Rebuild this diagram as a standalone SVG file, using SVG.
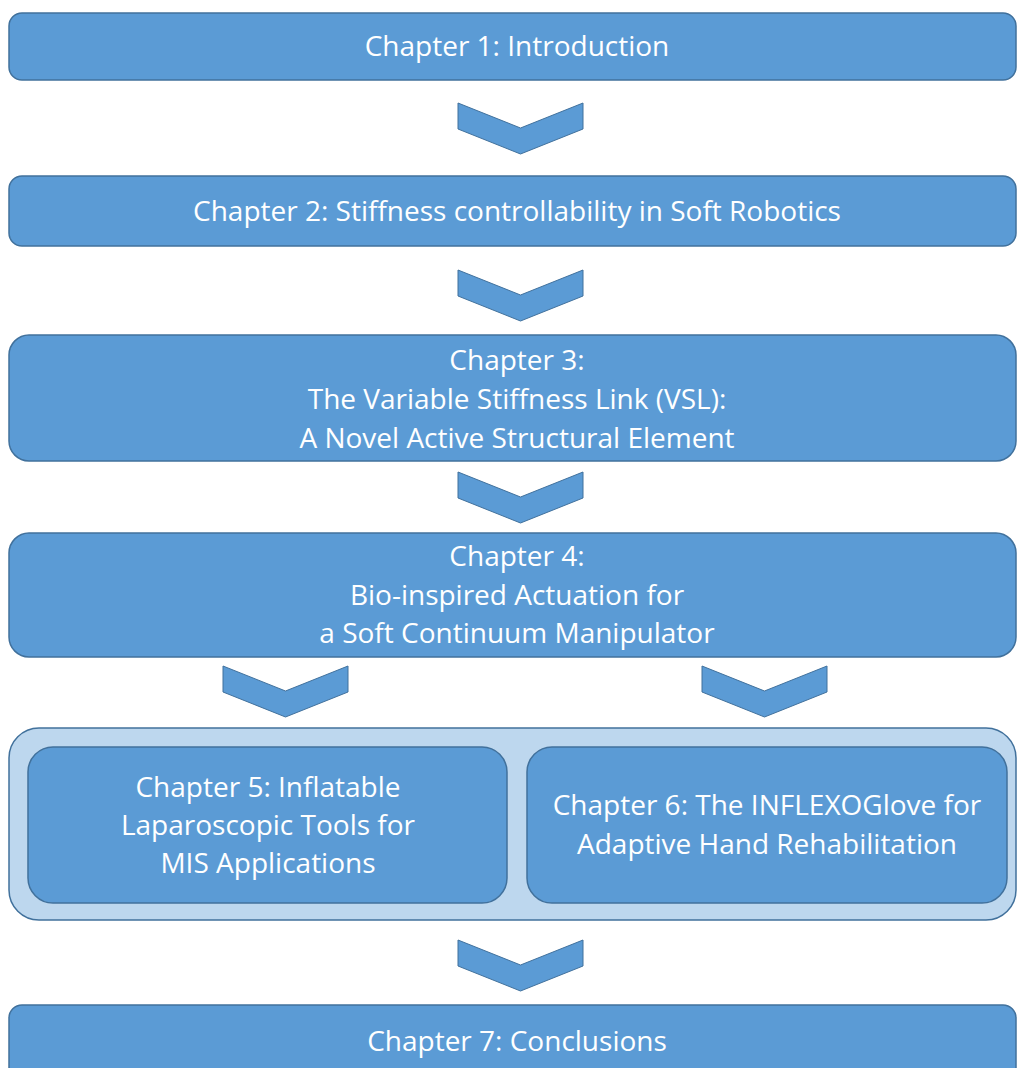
<svg xmlns="http://www.w3.org/2000/svg" width="1018" height="1068" viewBox="0 0 1018 1068">
<defs>
<style>
.box{fill:#5B9BD5;stroke:#41719C;stroke-width:1.5}
.outer{fill:#BDD7EE;stroke:#41719C;stroke-width:1.5}
.chev{fill:#5B9BD5;stroke:#41719C;stroke-width:1}
.t{fill:#FFFFFF;font-family:"Open Sans","Liberation Sans",sans-serif;font-size:28px;text-anchor:middle}
</style>
<path id="chevron" class="chev" d="M0,0 L62.5,25 L125,0 L125,26 L62.5,51 L0,26 Z"/>
</defs>
<rect width="1018" height="1068" fill="#FFFFFF"/>
<g id="ch1">
<rect class="box" x="9" y="13" width="1007" height="67" rx="13"/>
<text class="t" x="517" y="56">Chapter 1: Introduction</text>
</g>
<g id="ch2">
<rect class="box" x="9" y="176" width="1007" height="70" rx="13"/>
<text class="t" x="517" y="221">Chapter 2: Stiffness controllability in Soft Robotics</text>
</g>
<g id="ch3">
<rect class="box" x="9" y="335" width="1007" height="126" rx="20"/>
<text class="t" x="517" y="370">Chapter 3:</text>
<text class="t" x="517" y="409">The Variable Stiffness Link (VSL):</text>
<text class="t" x="517" y="448">A Novel Active Structural Element</text>
</g>
<g id="ch4">
<rect class="box" x="9" y="533" width="1007" height="124" rx="20"/>
<text class="t" x="517" y="566">Chapter 4:</text>
<text class="t" x="517" y="605">Bio-inspired Actuation for</text>
<text class="t" x="517" y="643">a Soft Continuum Manipulator</text>
</g>
<g id="group56">
<rect class="outer" x="9" y="728" width="1007" height="192" rx="30"/>
</g>
<g id="ch5">
<rect class="box" x="28" y="747" width="479" height="156" rx="25"/>
<text class="t" x="268" y="797">Chapter 5: Inflatable</text>
<text class="t" x="268" y="835">Laparoscopic Tools for</text>
<text class="t" x="268" y="873">MIS Applications</text>
</g>
<g id="ch6">
<rect class="box" x="527" y="747" width="480" height="156" rx="25"/>
<text class="t" x="767" y="815">Chapter 6: The INFLEXOGlove for</text>
<text class="t" x="767" y="854">Adaptive Hand Rehabilitation</text>
</g>
<g id="ch7">
<rect class="box" x="9" y="1005" width="1007" height="80" rx="13"/>
<text class="t" x="517" y="1051">Chapter 7: Conclusions</text>
</g>
<g id="connectors">
<use href="#chevron" x="458" y="103"/>
<use href="#chevron" x="458" y="270"/>
<use href="#chevron" x="458" y="472"/>
<use href="#chevron" x="223" y="666"/>
<use href="#chevron" x="702" y="666"/>
<use href="#chevron" x="458" y="940"/>
</g>
</svg>
